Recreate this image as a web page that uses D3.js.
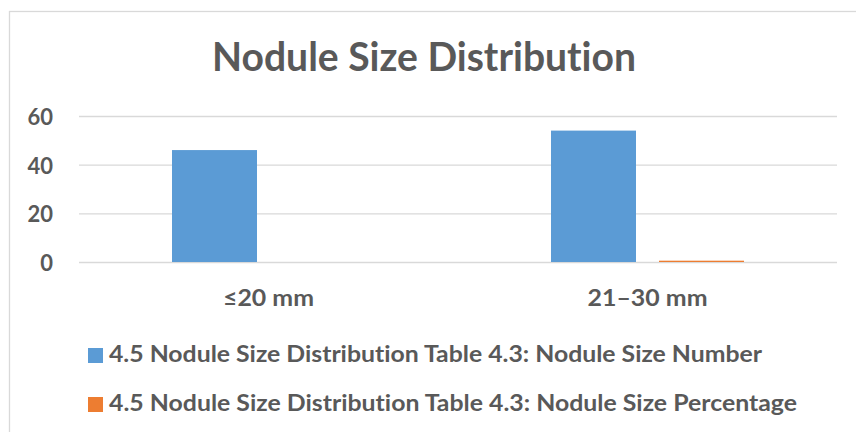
<!DOCTYPE html>
<html>
<head>
<meta charset="utf-8">
<script src="https://cdn.jsdelivr.net/npm/d3@7"></script>
<style>
  html, body { margin: 0; padding: 0; background: #ffffff; }
  svg { display: block; }
  svg text { font-variant-ligatures: none; font-feature-settings: "liga" 0, "clig" 0; }
</style>
</head>
<body>
<svg id="chart" width="856" height="432"></svg>
<script>
// ---- data ----
const title = "Nodule Size Distribution";
const categories = ["≤20 mm", "21–30 mm"];
const seriesNames = [
  "4.5 Nodule Size Distribution Table 4.3: Nodule Size Number",
  "4.5 Nodule Size Distribution Table 4.3: Nodule Size Percentage"
];
const numberValues = [46, 54];
const percentageValues = [0, 0.54];
const yTicks = [0, 20, 40, 60];
const seriesColors = ["#5B9BD5", "#ED7D31"];

// ---- layout ----
const W = 856, H = 432;
const plot = { left: 79, right: 837, top: 116, bottom: 262 };
const textColor = "#595959";
const gridColor = "#D9D9D9";
const font = "Lato, 'Open Sans', sans-serif";
const labelSize = 22;

const svg = d3.select("#chart");

function fitWidth(sel, target) {
  const len = sel.node().getComputedTextLength();
  if (Math.abs(len - target) > 1) {
    sel.attr("textLength", target).attr("lengthAdjust", "spacingAndGlyphs");
  }
}

// outer frame
svg.append("rect")
  .attr("x", 9.5).attr("y", 11.5)
  .attr("width", W).attr("height", H)
  .attr("fill", "#fff").attr("stroke", gridColor).attr("stroke-width", 1.3);

// title
const titleText = svg.append("text")
  .attr("x", 424).attr("y", 71)
  .attr("text-anchor", "middle")
  .attr("font-family", font).attr("font-weight", 700)
  .attr("font-size", 40).attr("fill", textColor)
  .text(title);
fitWidth(titleText, 424);

// scales
const y = d3.scaleLinear().domain([0, 60]).range([plot.bottom, plot.top]);
const x0 = d3.scaleBand().domain(categories).range([plot.left, plot.right]).paddingInner(0).paddingOuter(0);
const x1 = d3.scaleBand().domain(d3.range(seriesNames.length)).range([0, x0.bandwidth()])
  .paddingInner(0.213).paddingOuter(0.861);

// gridlines + y labels
const yAxis = d3.axisLeft(y).tickValues(yTicks).tickSize(-(plot.right - plot.left)).tickFormat(d3.format("d"));
const gAxis = svg.append("g").attr("transform", `translate(${plot.left},0)`).call(yAxis);
gAxis.select(".domain").remove();
gAxis.selectAll(".tick line").attr("stroke", gridColor).attr("stroke-width", 1.3);
gAxis.selectAll(".tick text")
  .attr("x", -(plot.left - 53)).attr("dy", "0.38em")
  .attr("text-anchor", "end")
  .attr("font-family", font).attr("font-weight", 700).attr("font-size", labelSize)
  .attr("fill", textColor)
  .each(function(d) { fitWidth(d3.select(this), d === 0 ? 13 : 26); });

// bars
const series = [numberValues, percentageValues];
const groups = svg.append("g").selectAll("g")
  .data(categories)
  .join("g")
  .attr("transform", d => `translate(${x0(d)},0)`);

groups.selectAll("rect")
  .data((c, ci) => series.map((vals, si) => ({ si, v: vals[ci] })))
  .join("rect")
  .attr("x", d => x1(d.si))
  .attr("width", x1.bandwidth())
  .attr("y", d => y(d.v))
  .attr("height", d => y(0) - y(d.v))
  .attr("fill", d => seriesColors[d.si]);

// x labels
const xAxis = d3.axisBottom(x0).tickSize(0);
const gx = svg.append("g").attr("transform", `translate(0,${plot.bottom})`).call(xAxis);
gx.select(".domain").remove();
gx.selectAll(".tick text")
  .attr("y", 44).attr("dy", 0)
  .attr("font-family", font).attr("font-weight", 700).attr("font-size", labelSize)
  .attr("fill", textColor)
  .each(function(d, i) { fitWidth(d3.select(this), i === 0 ? 91 : 120); });

// legend
const legendRows = [
  { sq: 348, base: 362, w: 653 },
  { sq: 397, base: 411, w: 688 }
];
const legend = svg.append("g").selectAll("g")
  .data(seriesNames)
  .join("g");
legend.append("rect")
  .attr("x", 88).attr("y", (d, i) => legendRows[i].sq)
  .attr("width", 15).attr("height", 15)
  .attr("fill", (d, i) => seriesColors[i]);
legend.append("text")
  .attr("x", 109).attr("y", (d, i) => legendRows[i].base)
  .attr("font-family", font).attr("font-weight", 700).attr("font-size", labelSize)
  .attr("fill", textColor)
  .text(d => d)
  .each(function(d, i) { fitWidth(d3.select(this), legendRows[i].w); });
</script>
</body>
</html>
